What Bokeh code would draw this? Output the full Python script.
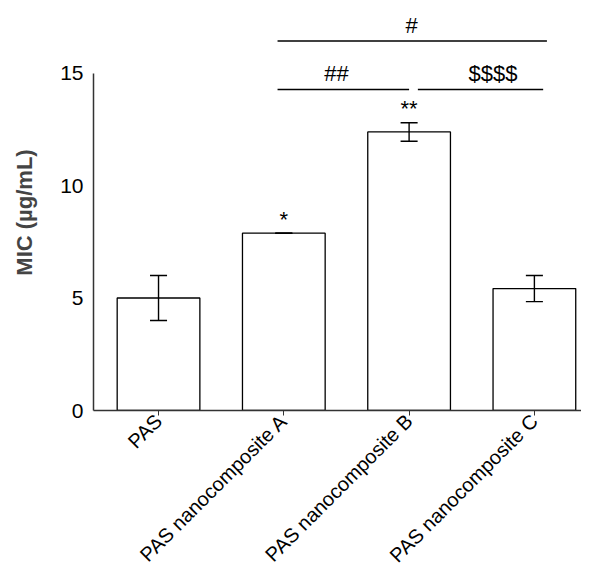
import math
from bokeh.plotting import figure
from bokeh.models import ColumnDataSource, FixedTicker
from bokeh.core.properties import value
from bokeh.embed import file_html
from bokeh.resources import INLINE

# ---- data ----
categories = ["PAS", "PAS nanocomposite A", "PAS nanocomposite B", "PAS nanocomposite C"]
mic_mean = [5.0, 7.88, 12.38, 5.42]
mic_err = [1.0, 0.0, 0.41, 0.58]
stars = ["", "*", "**", ""]
y_ticks = [0, 5, 10, 15]

# significance brackets (x in category index units)
br_x0 = [0.95, 0.95, 2.07]
br_x1 = [3.10, 2.00, 3.07]
br_y = [16.42, 14.27, 14.27]
br_label = ["#", "##", "$$$$"]
br_label_x = [2.02, 1.42, 2.67]

FONT = "Liberation Sans"

xs = list(range(len(categories)))

p = figure(width=581, height=578, output_backend="svg", toolbar_location=None,
           x_range=(-0.519, 3.376), y_range=(0, 17.6))
p.min_border = 0
p.min_border_left = 93
p.min_border_right = 0
p.min_border_top = 14
p.min_border_bottom = 168
p.outline_line_color = None
p.xgrid.visible = False
p.ygrid.visible = False
p.background_fill_color = "white"
p.border_fill_color = "white"

src = ColumnDataSource(dict(
    x=xs, top=mic_mean,
    lo=[m - e for m, e in zip(mic_mean, mic_err)],
    hi=[m + e for m, e in zip(mic_mean, mic_err)],
    cl=[x - 0.068 for x in xs], cr=[x + 0.068 for x in xs],
    sy=[m + e + 0.63 for m, e in zip(mic_mean, mic_err)],
    stars=stars,
))

p.vbar(x="x", top="top", bottom=0, width=0.66, source=src,
       fill_color="white", line_color="black", line_width=1.3)

# error bars
p.segment(x0="x", y0="lo", x1="x", y1="hi", source=src, line_color="black", line_width=1.4)
p.segment(x0="cl", y0="hi", x1="cr", y1="hi", source=src, line_color="black", line_width=1.4)
p.segment(x0="cl", y0="lo", x1="cr", y1="lo", source=src, line_color="black", line_width=1.4)

# stars
p.text(x="x", y="sy", text="stars", source=src, text_align="center",
       text_baseline="alphabetic", text_font=value(FONT), text_font_size="22px",
       text_color="black")

# brackets
bsrc = ColumnDataSource(dict(x0=br_x0, x1=br_x1, y=br_y, lab=br_label, lx=br_label_x,
                             ly=[y + 0.7 for y in br_y]))
p.segment(x0="x0", y0="y", x1="x1", y1="y", source=bsrc, line_color="black", line_width=1.6)
p.text(x="lx", y="ly", text="lab", source=bsrc, text_align="center",
       text_baseline="alphabetic", text_font=value(FONT), text_font_size="22px",
       text_color="black")

# axes
p.yaxis.bounds = (0, 15)
p.yaxis.ticker = FixedTicker(ticks=y_ticks)
p.yaxis.minor_tick_line_color = None
p.yaxis.major_tick_out = 0
p.yaxis.major_tick_in = 0
p.yaxis.major_label_standoff = 10
p.yaxis.axis_label = "MIC (µg/mL)"
p.yaxis.axis_label_text_font = FONT
p.yaxis.axis_label_text_font_style = "bold"
p.yaxis.axis_label_text_font_size = "22px"
p.yaxis.axis_label_standoff = 20
p.yaxis.major_label_text_font = FONT
p.yaxis.major_label_text_font_size = "21px"
p.yaxis.major_label_text_color = "black"
p.yaxis.axis_line_color = "#333333"
p.yaxis.axis_line_width = 1.5

p.xaxis.ticker = FixedTicker(ticks=xs)
p.xaxis.major_label_overrides = {i: c for i, c in enumerate(categories)}
p.xaxis.major_label_orientation = math.pi / 4
p.xaxis.minor_tick_line_color = None
p.xaxis.major_tick_out = 5
p.xaxis.major_tick_in = 0
p.xaxis.major_tick_line_color = "#333333"
p.xaxis.major_label_standoff = 2
p.xaxis.major_label_text_font = FONT
p.xaxis.major_label_text_font_size = "20px"
p.xaxis.major_label_text_color = "black"
p.xaxis.axis_line_color = "#333333"
p.xaxis.axis_line_width = 1.5

open("out.html", "w").write(file_html(p, INLINE))
